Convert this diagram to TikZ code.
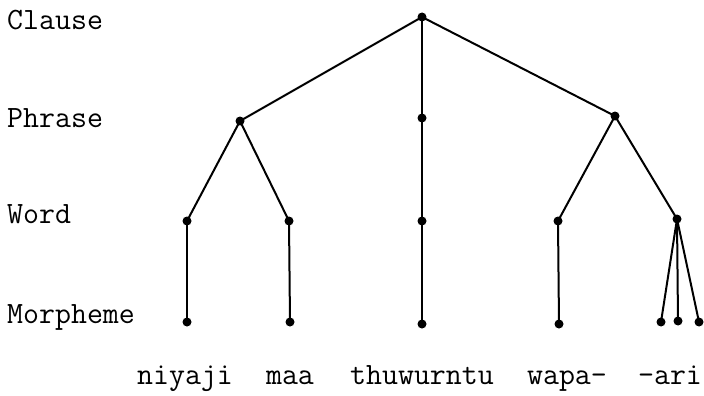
\documentclass[tikz,border=0pt]{standalone}
\begin{document}
\begin{tikzpicture}[x=1pt,y=-1pt,
  dot/.style={circle,fill=black,inner sep=0pt,minimum size=9pt},
  branch/.style={line width=2pt},
  level/.style={anchor=base west,inner sep=0pt,font=\fontsize{31}{36}\selectfont\ttfamily},
  gloss/.style={anchor=base,inner sep=0pt,font=\fontsize{31}{36}\selectfont\ttfamily}]
\useasboundingbox (0,0) rectangle (704,396);
% level names
\node[level] (lc) at (7,30) {Clause};
\node[level] (lp) at (7,127) {Phrase};
\node[level] (lw) at (7,223) {Word};
\node[level] (lm) at (7,323) {Morpheme};
% clause
\node[dot] (c) at (422,17) {};
% phrases
\node[dot] (p1) at (240,121) {};
\node[dot] (p2) at (422,118) {};
\node[dot] (p3) at (615,116) {};
% words
\node[dot] (w1) at (187,221) {};
\node[dot] (w2) at (289,221) {};
\node[dot] (w3) at (422,221) {};
\node[dot] (w4) at (558,221) {};
\node[dot] (w5) at (677,219) {};
% morphemes
\node[dot] (m1) at (187,322) {};
\node[dot] (m2) at (290,322) {};
\node[dot] (m3) at (422,324) {};
\node[dot] (m4) at (559,324) {};
\node[dot] (m5) at (661,322) {};
\node[dot] (m6) at (678,321) {};
\node[dot] (m7) at (699,322) {};
% branches
\draw[branch] (c.center) -- (p1.center);
\draw[branch] (c.center) -- (p2.center);
\draw[branch] (c.center) -- (p3.center);
\draw[branch] (p1.center) -- (w1.center);
\draw[branch] (p1.center) -- (w2.center);
\draw[branch] (p2.center) -- (w3.center);
\draw[branch] (p3.center) -- (w4.center);
\draw[branch] (p3.center) -- (w5.center);
\draw[branch] (w1.center) -- (m1.center);
\draw[branch] (w2.center) -- (m2.center);
\draw[branch] (w3.center) -- (m3.center);
\draw[branch] (w4.center) -- (m4.center);
\draw[branch] (w5.center) -- (m5.center);
\draw[branch] (w5.center) -- (m6.center);
\draw[branch] (w5.center) -- (m7.center);
% glosses
\node[gloss] (g1) at (185,384) {niyaji};
\node[gloss] (g2) at (290,384) {maa};
\node[gloss] (g3) at (422,384) {thuwurntu};
\node[gloss] (g4) at (567,384) {wapa-};
\node[gloss] (g5) at (670,384) {-ari};
\end{tikzpicture}
\end{document}
